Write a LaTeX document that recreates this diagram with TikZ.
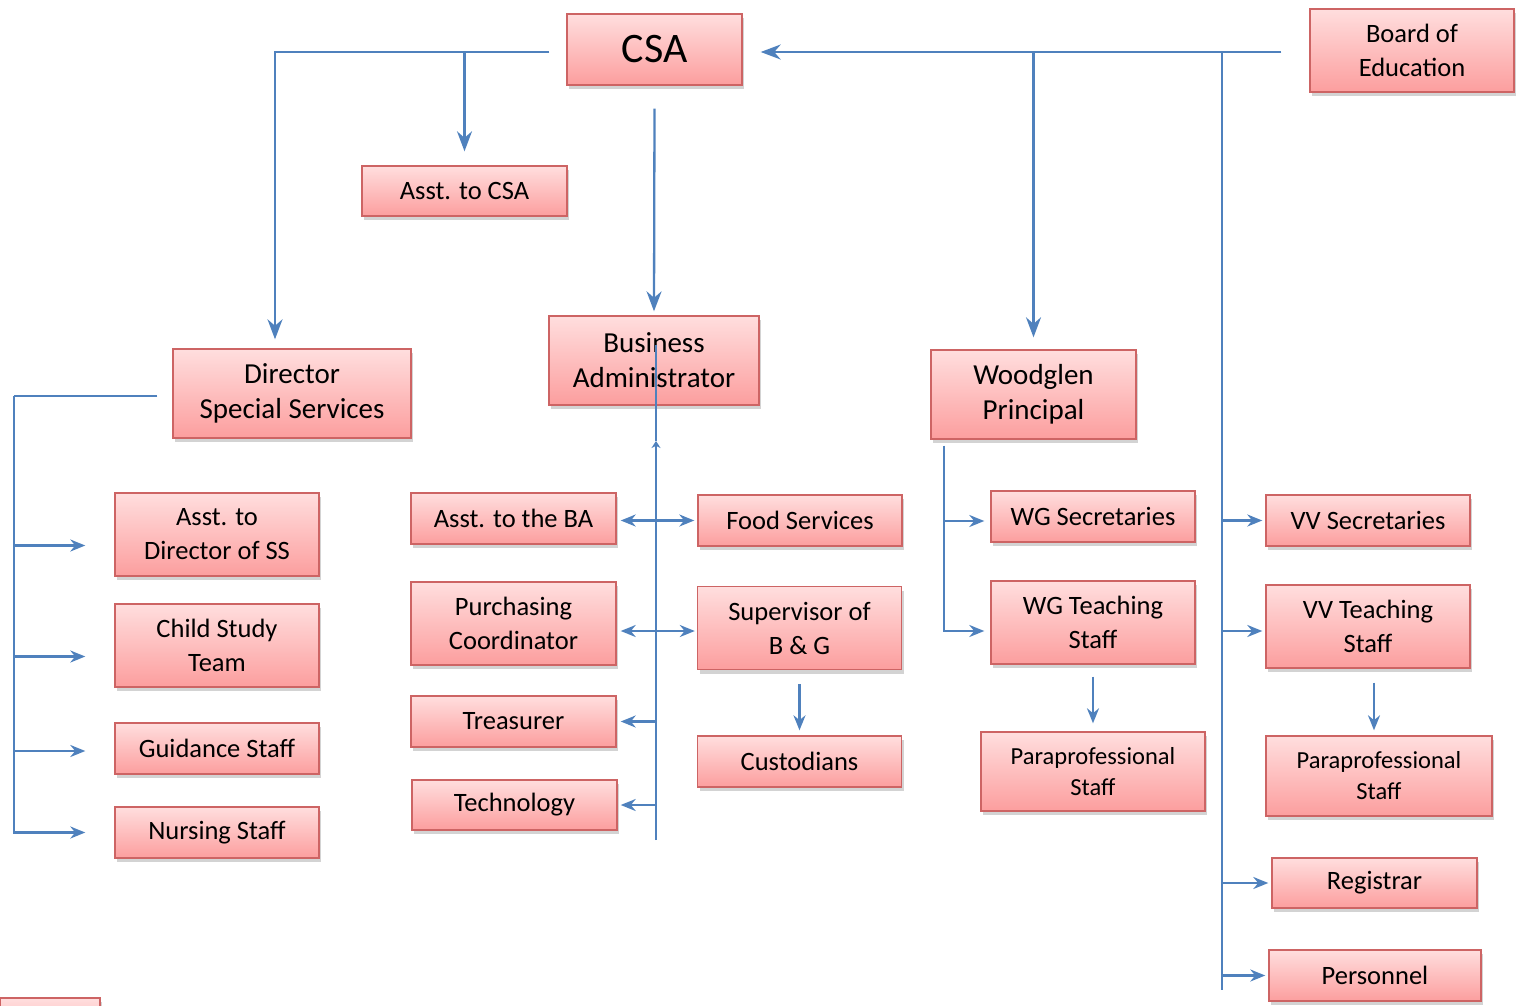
\documentclass[tikz,border=0pt]{standalone}
\usepackage{fontspec}
\setmainfont{Carlito}
\usetikzlibrary{arrows.meta,shadows}

\definecolor{boxtop}{RGB}{255,222,222}
\definecolor{boxbot}{RGB}{252,158,158}
\definecolor{boxedge}{RGB}{205,100,100}
\definecolor{linkblue}{RGB}{79,129,189}

\tikzset{
    box/.style={draw=boxedge, line width=1.4pt, top color=boxtop, bottom color=boxbot,
        align=center, inner sep=0pt, minimum width=205pt, minimum height=51pt,
        font=\fontsize{26.5}{34}\selectfont,
        drop shadow={opacity=0.35, shadow xshift=2pt, shadow yshift=-4pt}},
    tall/.style={minimum height=83pt},
    head/.style={font=\fontsize{29}{35}\selectfont},
    para/.style={font=\fontsize{24.5}{31}\selectfont},
    link/.style={draw=linkblue, line width=2.3pt},
    bigarr/.style={link, -{Stealth[length=20pt,width=15pt]}},
    arr/.style={link, -{Stealth[length=15pt,width=12pt]}},
    twoway/.style={link, {Stealth[length=15pt,width=12pt]}-{Stealth[length=15pt,width=12pt]}},
}

\begin{document}
\begin{tikzpicture}[x=1pt, y=-1pt]
    \useasboundingbox (0,0) rectangle (1516,1005);

    % top
    \node (csa) at (654.5,49.5) [box, minimum width=175pt, minimum height=71pt, font=\fontsize{42}{42}\selectfont] {CSA};
    \node (board) at (1412,50.5) [box, minimum width=204pt, minimum height=83pt] {Board of\\Education};
    \node (asstcsa) at (464.5,191) [box, minimum height=50pt] {Asst. to CSA};

    % second row
    \node (dirss) at (292,393.5) [box, head, minimum width=238pt, minimum height=89pt] {Director\\Special Services};
    \node (ba) at (654,360.5) [box, head, minimum width=210pt, minimum height=89pt] {Business\\Administrator};
    \node (wgp) at (1033.5,394.5) [box, head, minimum height=89pt] {Woodglen\\Principal};

    % special services
    \node (asstss) at (217,534.5) [box, tall, minimum width=204pt] {Asst. to\\Director of SS};
    \node (cst) at (217,645.5) [box, tall, minimum width=204pt] {Child Study\\Team};
    \node (guid) at (217,748.5) [box, minimum width=204pt] {Guidance Staff};
    \node (nurse) at (217,832.5) [box, minimum width=204pt] {Nursing Staff};

    % business office
    \node (asstba) at (513.5,518.5) [box] {Asst. to the BA};
    \node (food) at (800,520.5) [box, minimum width=204pt] {Food Services};
    \node (purch) at (513.5,623.5) [box, tall] {Purchasing\\Coordinator};
    \node (supbg) at (799.5,628) [box, tall, minimum width=204pt] {Supervisor of\\B \& G};
    \node (treas) at (513.5,721.5) [box] {Treasurer};
    \node (cust) at (799.5,761.5) [box, minimum width=204pt] {Custodians};
    \node (tech) at (514.5,805) [box, minimum height=50pt] {Technology};

    % woodglen
    \node (wgsec) at (1093,516.5) [box, minimum width=204pt] {WG Secretaries};
    \node (wgteach) at (1093,622.5) [box, tall, minimum width=204pt] {WG Teaching\\Staff};
    \node (wgpara) at (1093,771.5) [box, para, minimum width=224pt, minimum height=79pt] {Paraprofessional\\Staff};

    % valley view
    \node (vvsec) at (1368,520.5) [box, minimum width=204pt] {VV Secretaries};
    \node (vvteach) at (1368,626.5) [box, tall, minimum width=204pt] {VV Teaching\\Staff};
    \node (vvpara) at (1379,776) [box, para, minimum width=226pt, minimum height=80pt] {Paraprofessional\\Staff};
    \node (reg) at (1374.5,883) [box, minimum height=50pt] {Registrar};
    \node (pers) at (1375,975.5) [box, minimum width=212pt] {Personnel};

    % cut off at the page edge
    \node (cut) at (50,1026) [box, minimum width=100pt, minimum height=56pt] {};

    % from the top
    \coordinate (vvtop) at (1222,52);
    \draw[bigarr] ([xshift=-28pt]board.west |- vvtop) -- ([xshift=18pt]csa.east |- vvtop);
    \draw[bigarr] ([xshift=-17pt]csa.west |- vvtop) -| ([xshift=-17pt,yshift=9pt]dirss.north);
    \draw[bigarr] (asstcsa.north |- vvtop) -- ([yshift=14pt]asstcsa.north);
    \draw[bigarr] ([yshift=-23pt]csa.south) -- ([yshift=4pt]ba.north);
    \draw[bigarr] (wgp.north |- vvtop) -- ([yshift=12pt]wgp.north);

    % special services bus
    \coordinate (ssbus) at (14,396);
    \draw[link] ([xshift=-15pt]dirss.west |- ssbus) -- (ssbus);
    \foreach \n/\dy in {asstss/-11, cst/-11, guid/-2.5} {
        \path ([xshift=-29pt,yshift=\dy pt]\n.west) coordinate (tip-\n);
        \draw[arr] (ssbus |- tip-\n) -- (tip-\n);
    }
    \draw[arr] (ssbus) |- ([xshift=-29pt]nurse.west);

    % business office spine
    \coordinate (batop) at (656,345);
    \coordinate (batick) at (656,441);
    \coordinate (babot) at (656,840);
    \draw[link] (batop) -- (batick);
    \draw[link, -{Stealth[length=7pt,width=9pt]}] (babot) -- (batick);
    \draw[twoway] ([xshift=4pt]asstba.east |- food.west) -- ([xshift=-3pt]food.west);
    \path ([xshift=-2pt,yshift=-3pt]supbg.west) coordinate (bgtip);
    \draw[twoway] ([xshift=4pt]purch.east |- bgtip) -- (bgtip);
    \draw[arr] (batop |- treas.east) -- ([xshift=4pt]treas.east);
    \draw[arr] (batop |- tech.east) -- ([xshift=3pt]tech.east);
    \draw[arr] ([yshift=-14pt]supbg.south) -- ([yshift=5pt]cust.north);

    % woodglen bus
    \coordinate (wgbus) at ([xshift=14pt,yshift=-6pt]wgp.south west);
    \draw[arr] (wgbus) |- ([xshift=-6pt,yshift=-8.5pt]wgteach.west);
    \path ([xshift=-6pt,yshift=-4.5pt]wgsec.west) coordinate (wgtip);
    \draw[arr] (wgbus |- wgtip) -- (wgtip);
    \draw[arr] ([yshift=-12pt]wgteach.south) -- ([yshift=8pt]wgpara.north);

    % valley view bus
    \coordinate (vvend) at (1222,990);
    \draw[link] (vvtop) -- (vvend);
    \foreach \n/\dy in {vvsec/0, vvteach/-4.5, reg/0, pers/0} {
        \path ([xshift=-3pt,yshift=\dy pt]\n.west) coordinate (tip-\n);
        \draw[arr] (vvtop |- tip-\n) -- (tip-\n);
    }
    \draw[arr] ([xshift=6pt,yshift=-14pt]vvteach.south) -- ([xshift=-5pt,yshift=5pt]vvpara.north);
\end{tikzpicture}
\end{document}
